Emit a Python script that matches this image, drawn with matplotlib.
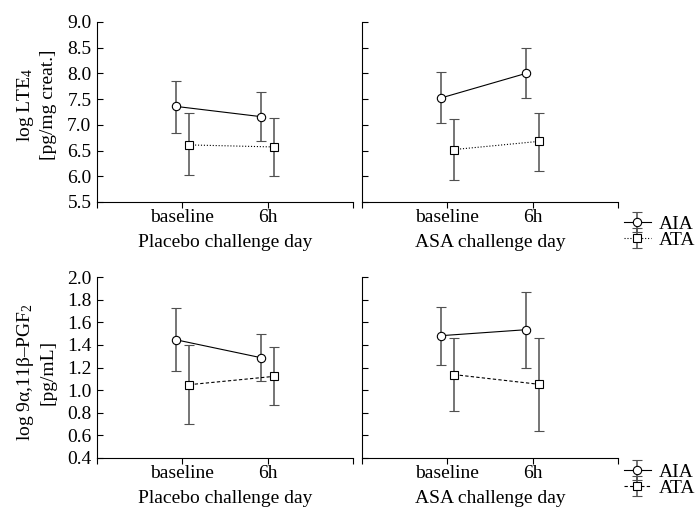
import matplotlib
matplotlib.use("Agg")
import matplotlib.pyplot as plt
import numpy as np

plt.rcParams['font.family'] = ['Liberation Serif', 'DejaVu Serif']
plt.rcParams['mathtext.fontset'] = 'custom'
plt.rcParams['mathtext.rm'] = 'Liberation Serif'
plt.rcParams['mathtext.it'] = 'Liberation Serif:italic'
plt.rcParams['font.size'] = 14

# data: mean, upper and lower end of the error bar
timepoints = ['baseline', '6h']
days = ['Placebo challenge day', 'ASA challenge day']

# log LTE4
lte_aia_mean = {'placebo': [7.36, 7.16], 'asa': [7.52, 8.00]}
lte_aia_hi = {'placebo': [7.86, 7.63], 'asa': [8.02, 8.49]}
lte_aia_lo = {'placebo': [6.85, 6.68], 'asa': [7.03, 7.53]}
lte_ata_mean = {'placebo': [6.61, 6.57], 'asa': [6.52, 6.68]}
lte_ata_hi = {'placebo': [7.23, 7.14], 'asa': [7.12, 7.24]}
lte_ata_lo = {'placebo': [6.02, 6.01], 'asa': [5.93, 6.10]}

# log 9a,11b-PGF2
pgf_aia_mean = {'placebo': [1.446, 1.287], 'asa': [1.481, 1.534]}
pgf_aia_hi = {'placebo': [1.726, 1.496], 'asa': [1.738, 1.864]}
pgf_aia_lo = {'placebo': [1.166, 1.081], 'asa': [1.219, 1.198]}
pgf_ata_mean = {'placebo': [1.048, 1.122], 'asa': [1.137, 1.051]}
pgf_ata_hi = {'placebo': [1.399, 1.378], 'asa': [1.461, 1.461]}
pgf_ata_lo = {'placebo': [0.703, 0.866], 'asa': [0.815, 0.636]}

ebcolor = '#505050'


def draw(ax, mean, hi, lo, offset, marker, ls, ms):
    x = np.arange(1, 3) + offset
    m = np.array(mean)
    yerr = [m - np.array(lo), np.array(hi) - m]
    return ax.errorbar(x, m, yerr=yerr, color='black', ecolor=ebcolor,
                       elinewidth=1.1, capsize=3.6, capthick=1.1,
                       marker=marker, ms=ms, mfc='white', mec='black', mew=0.8,
                       lw=0.8, ls=ls)


fig = plt.figure(figsize=(6.99, 5.09), dpi=100)
W, H = 699, 509
lefts = [97, 362]
width = 256
rows = [(22, 202), (277, 458)]

axes = []
for r, (top, bot) in enumerate(rows):
    for c, left in enumerate(lefts):
        ax = fig.add_axes([left / W, 1 - bot / H, width / W, (bot - top) / H])
        axes.append(ax)
        for s in ['top', 'right']:
            ax.spines[s].set_visible(False)
        for s in ['left', 'bottom']:
            ax.spines[s].set_linewidth(0.8)
        ax.set_xlim(0, 3)
        ax.set_xticks([0, 1, 2, 3])
        ax.set_xticklabels(['', 'baseline', '6h', ''])
        ax.tick_params(axis='x', direction='out', length=4, width=0.8, pad=1)
        ax.tick_params(axis='y', direction='in', length=4, width=0.8, pad=4)
        ax.set_xlabel(days[c], labelpad=6)

keys = ['placebo', 'asa']
handles_top = None
handles_bot = None
for c, k in enumerate(keys):
    ax = axes[c]
    h1 = draw(ax, lte_aia_mean[k], lte_aia_hi[k], lte_aia_lo[k], -0.08, 'o', '-', 6)
    h2 = draw(ax, lte_ata_mean[k], lte_ata_hi[k], lte_ata_lo[k], 0.08, 's', ':', 5.5)
    handles_top = [h1, h2]
    ax.set_ylim(5.5, 9.0)
    ax.set_yticks(np.arange(5.5, 9.01, 0.5))
    ax.set_yticklabels(['%.1f' % v for v in np.arange(5.5, 9.01, 0.5)])

    ax = axes[2 + c]
    h1 = draw(ax, pgf_aia_mean[k], pgf_aia_hi[k], pgf_aia_lo[k], -0.08, 'o', '-', 6)
    h2 = draw(ax, pgf_ata_mean[k], pgf_ata_hi[k], pgf_ata_lo[k], 0.08, 's', (0, (3, 2)), 5.5)
    handles_bot = [h1, h2]
    ax.set_ylim(0.4, 2.0)
    ax.set_yticks(np.arange(0.4, 2.01, 0.2))
    ax.set_yticklabels(['%.1f' % v for v in np.arange(0.4, 2.01, 0.2)])

axes[1].set_yticklabels([])
axes[3].set_yticklabels([])

axes[0].set_ylabel('log LTE$_4$\n[pg/mg creat.]', linespacing=1.3)
axes[0].yaxis.set_label_coords(-0.158, 0.54)
axes[2].set_ylabel('log 9\u03b1,11\u03b2\u2013PGF$_2$\n[pg/mL]', linespacing=1.3)
axes[2].yaxis.set_label_coords(-0.158, 0.475)

for hs, y in [(handles_top, 1 - 232 / H), (handles_bot, 1 - 480 / H)]:
    fig.legend(hs, ['AIA', 'ATA'], loc='center left', bbox_to_anchor=(614 / W, y),
               frameon=False, handlelength=1.4, handletextpad=0.4,
               labelspacing=-0.1, borderpad=0, fontsize=14)

fig.savefig('out.png', dpi=100)
